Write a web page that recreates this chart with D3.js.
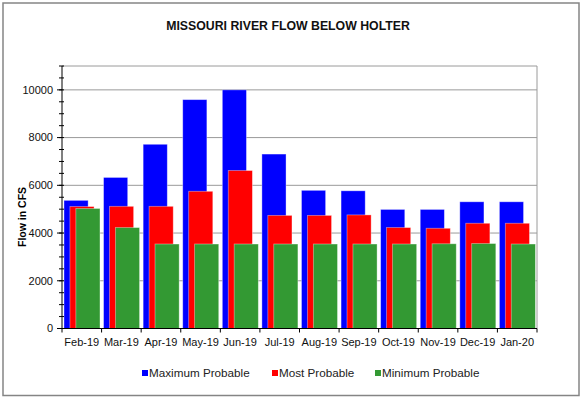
<!DOCTYPE html>
<html>
<head>
<meta charset="utf-8">
<script src="https://cdn.jsdelivr.net/npm/d3@7"></script>
<style>
  body { margin: 0; background: #fff; }
  text { font-family: "Liberation Sans", Arial, sans-serif; }
</style>
</head>
<body>
<svg id="chart"></svg>
<script>
// Values
const months = ['Feb-19', 'Mar-19', 'Apr-19', 'May-19', 'Jun-19', 'Jul-19',
  'Aug-19', 'Sep-19', 'Oct-19', 'Nov-19', 'Dec-19', 'Jan-20'];
const maxProbable = [5370, 6330, 7720, 9590, 10000, 7310, 5790, 5770, 4990, 4990, 5310, 5310];
const mostProbable = [5110, 5120, 5120, 5750, 6620, 4740, 4740, 4760, 4230, 4200, 4410, 4410];
const minProbable = [5030, 4230, 3540, 3540, 3540, 3540, 3540, 3540, 3540, 3550, 3560, 3540];
const seriesNames = ['Maximum Probable', 'Most Probable', 'Minimum Probable'];
const seriesColors = ['#0000ff', '#ff0000', '#339933'];
const majorTicks = [0, 2000, 4000, 6000, 8000, 10000];
const minorTicks = d3.range(0, 11001, 500);

const totalWidth = 583;
const totalHeight = 399;
const plot = { left: 62, right: 537, top: 66, bottom: 328.5 };

const svg = d3.select('#chart')
  .attr('width', totalWidth)
  .attr('height', totalHeight);

// outer frame
svg.append('rect')
  .attr('x', 3).attr('y', 3)
  .attr('width', 576).attr('height', 392.5)
  .attr('fill', 'none')
  .attr('stroke', '#858585')
  .attr('stroke-width', 1.5);

const x = d3.scaleBand()
  .domain(months)
  .range([plot.left, plot.right]);

const y = d3.scaleLinear()
  .domain([0, 11000])
  .range([plot.bottom, plot.top]);

// gridlines
svg.append('g')
  .selectAll('line')
  .data(majorTicks.concat([11000]))
  .join('line')
  .attr('x1', plot.left)
  .attr('x2', plot.right)
  .attr('y1', d => y(d))
  .attr('y2', d => y(d))
  .attr('stroke', '#9a9a9a')
  .attr('stroke-width', 1);

// right border of plot
svg.append('line')
  .attr('x1', plot.right).attr('x2', plot.right)
  .attr('y1', plot.top).attr('y2', plot.bottom)
  .attr('stroke', '#9a9a9a');

// bars: three overlapping series per month
const series = [maxProbable, mostProbable, minProbable];
const bw = x.bandwidth();
const barW = bw * 0.61;
const step = bw * 0.15;
const start = bw * 0.05;

series.forEach((vals, si) => {
  svg.append('g')
    .selectAll('rect')
    .data(months.map((m, i) => ({ m, v: vals[i] })))
    .join('rect')
    .attr('x', d => x(d.m) + start + si * step)
    .attr('y', d => y(d.v))
    .attr('width', barW)
    .attr('height', d => y(0) - y(d.v))
    .attr('fill', seriesColors[si])
    .attr('stroke', 'rgba(255,255,255,0.45)')
    .attr('stroke-width', 0.8);
});

// y axis
const yAxis = svg.append('g')
  .attr('transform', `translate(${plot.left},0)`);

yAxis.append('line')
  .attr('y1', plot.top).attr('y2', plot.bottom)
  .attr('stroke', '#000');

yAxis.selectAll('.minor')
  .data(minorTicks)
  .join('line')
  .attr('class', 'minor')
  .attr('x1', -3).attr('x2', 2)
  .attr('y1', d => y(d)).attr('y2', d => y(d))
  .attr('stroke', '#000');

yAxis.selectAll('.major')
  .data(majorTicks)
  .join('line')
  .attr('class', 'major')
  .attr('x1', -5).attr('x2', 0)
  .attr('y1', d => y(d)).attr('y2', d => y(d))
  .attr('stroke', '#000');

yAxis.selectAll('.label')
  .data(majorTicks)
  .join('text')
  .attr('class', 'label')
  .attr('x', -9)
  .attr('y', d => y(d))
  .attr('dy', '0.35em')
  .attr('text-anchor', 'end')
  .attr('font-size', 11)
  .attr('fill', '#111')
  .text(d => d);

// x axis
const xAxis = svg.append('g')
  .attr('transform', `translate(0,${plot.bottom})`);

xAxis.append('line')
  .attr('x1', plot.left).attr('x2', plot.right)
  .attr('stroke', '#000');

xAxis.selectAll('.tick')
  .data(months.concat(['end']))
  .join('line')
  .attr('class', 'tick')
  .attr('x1', (d, i) => plot.left + i * bw)
  .attr('x2', (d, i) => plot.left + i * bw)
  .attr('y1', 0).attr('y2', 4)
  .attr('stroke', '#000');

xAxis.selectAll('.label')
  .data(months)
  .join('text')
  .attr('class', 'label')
  .attr('x', d => x(d) + bw / 2)
  .attr('y', 17)
  .attr('text-anchor', 'middle')
  .attr('font-size', 11)
  .attr('fill', '#111')
  .text(d => d);

// y axis title
svg.append('text')
  .attr('transform', 'translate(26,217) rotate(-90)')
  .attr('text-anchor', 'middle')
  .attr('font-size', 10.5)
  .attr('font-weight', 'bold')
  .text('Flow in CFS');

// chart title
svg.append('text')
  .attr('x', 288)
  .attr('y', 30)
  .attr('text-anchor', 'middle')
  .attr('font-size', 12.3)
  .attr('font-weight', 'bold')
  .attr('fill', '#111')
  .text('MISSOURI RIVER FLOW BELOW HOLTER');

// legend
const legendX = [142, 272, 375];
const legend = svg.append('g');
seriesNames.forEach((name, i) => {
  legend.append('rect')
    .attr('x', legendX[i])
    .attr('y', 370)
    .attr('width', 6)
    .attr('height', 6)
    .attr('fill', seriesColors[i]);
  legend.append('text')
    .attr('x', legendX[i] + 7)
    .attr('y', 377)
    .attr('font-size', 11.7)
    .attr('fill', '#222')
    .text(name);
});
</script>
</body>
</html>
